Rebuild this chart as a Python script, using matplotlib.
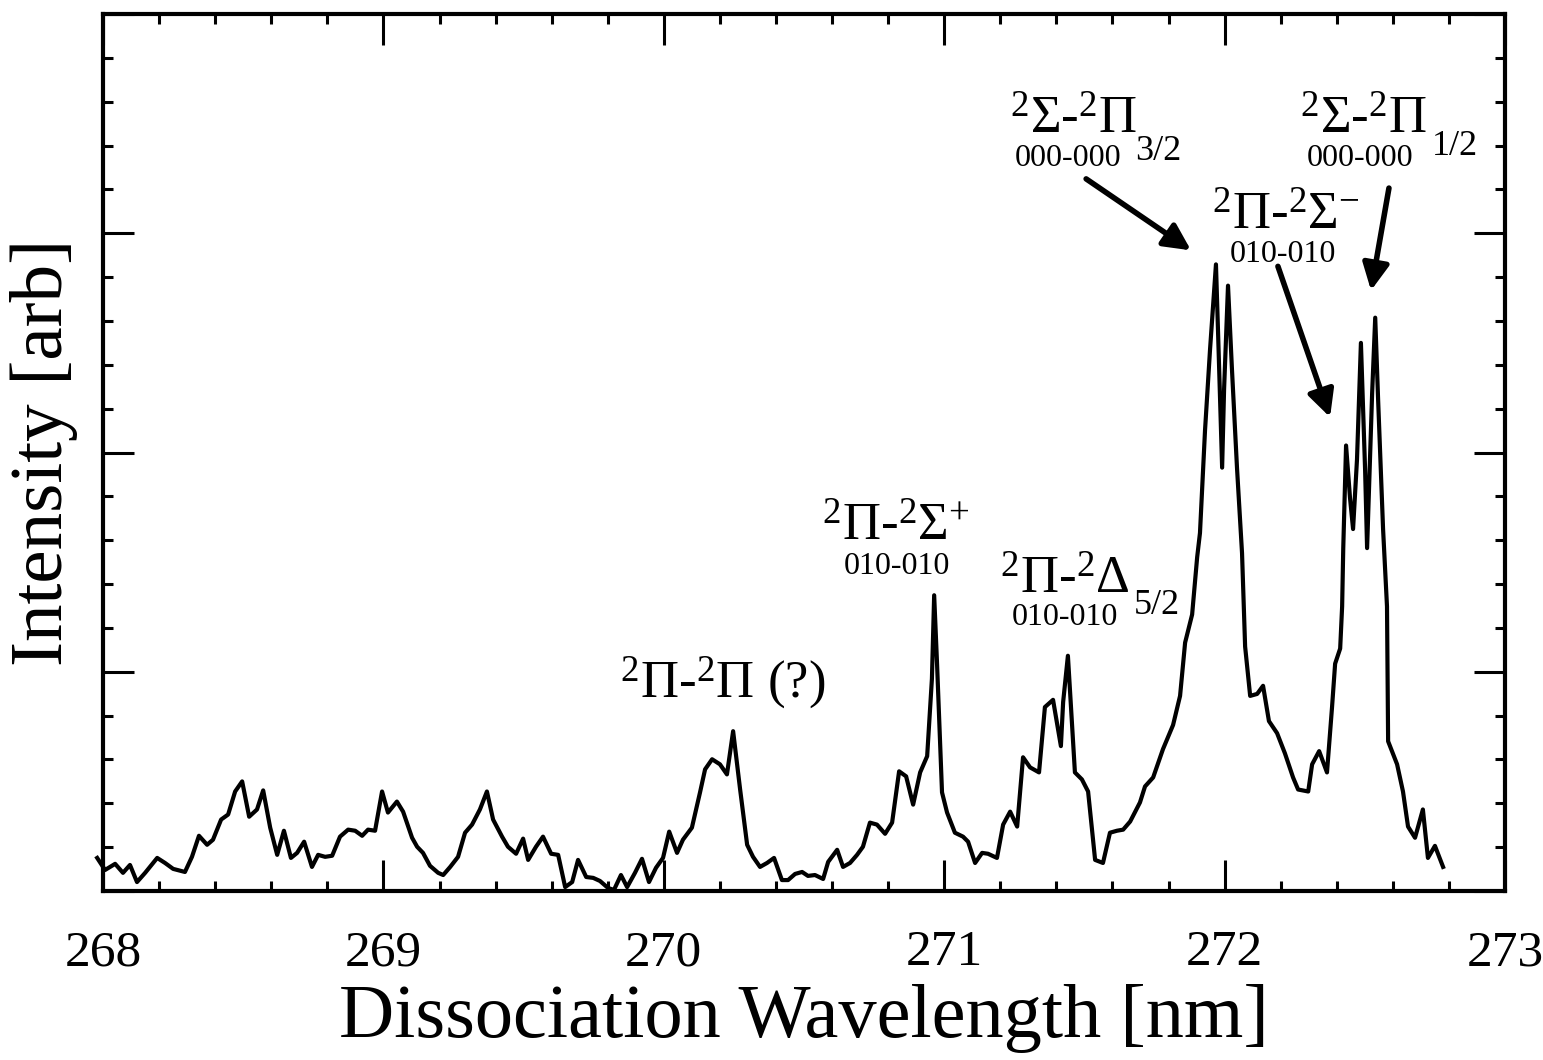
import matplotlib
matplotlib.use("Agg")
import matplotlib.pyplot as plt
from matplotlib.ticker import MultipleLocator, NullFormatter

plt.rcParams['font.family'] = ['Liberation Serif', 'DejaVu Serif']
plt.rcParams['mathtext.fontset'] = 'custom'
plt.rcParams['mathtext.rm'] = 'Liberation Serif'
plt.rcParams['mathtext.default'] = 'rm'

# spectrum (wavelength in nm, intensity in arb. units)
wavelength = [
    267.979, 268.007, 268.043, 268.071, 268.096, 268.121, 268.150, 268.193, 268.221, 268.250,
    268.292, 268.317, 268.342, 268.371, 268.392, 268.421, 268.446, 268.471, 268.496, 268.521,
    268.549, 268.571, 268.596, 268.621, 268.645, 268.670, 268.692, 268.717, 268.745, 268.767,
    268.792, 268.817, 268.845, 268.874, 268.899, 268.924, 268.945, 268.970, 268.995, 269.016,
    269.048, 269.070, 269.102, 269.120, 269.141, 269.166, 269.195, 269.213, 269.238, 269.266,
    269.291, 269.316, 269.344, 269.369, 269.391, 269.423, 269.444, 269.473, 269.498, 269.516,
    269.544, 269.569, 269.598, 269.623, 269.648, 269.673, 269.694, 269.723, 269.748, 269.772,
    269.801, 269.822, 269.847, 269.869, 269.897, 269.922, 269.947, 269.972, 269.997, 270.019,
    270.047, 270.068, 270.100, 270.129, 270.147, 270.172, 270.200, 270.225, 270.247, 270.272,
    270.297, 270.318, 270.343, 270.368, 270.393, 270.421, 270.443, 270.468, 270.493, 270.514,
    270.539, 270.568, 270.586, 270.618, 270.639, 270.664, 270.689, 270.710, 270.735, 270.760,
    270.789, 270.814, 270.839, 270.864, 270.889, 270.914, 270.939, 270.956, 270.964, 270.974,
    270.992, 271.010, 271.038, 271.067, 271.085, 271.110, 271.135, 271.156, 271.188, 271.210,
    271.235, 271.260, 271.281, 271.306, 271.338, 271.359, 271.388, 271.416, 271.424, 271.441,
    271.466, 271.491, 271.513, 271.538, 271.566, 271.591, 271.616, 271.638, 271.663, 271.698,
    271.716, 271.745, 271.780, 271.816, 271.841, 271.859, 271.884, 271.902, 271.912, 271.930,
    271.948, 271.969, 271.976, 271.991, 271.998, 272.012, 272.026, 272.044, 272.062, 272.073,
    272.091, 272.116, 272.137, 272.158, 272.187, 272.215, 272.244, 272.262, 272.298, 272.312,
    272.337, 272.365, 272.383, 272.394, 272.412, 272.419, 272.423, 272.433, 272.447, 272.458,
    272.472, 272.486, 272.501, 272.508, 272.526, 272.537, 272.547, 272.565, 272.579, 272.583,
    272.615, 272.636, 272.654, 272.679, 272.707, 272.725, 272.750, 272.779,
]
intensity = [
    0.151, 0.096, 0.124, 0.083, 0.119, 0.041, 0.083, 0.151, 0.128, 0.101,
    0.087, 0.156, 0.252, 0.211, 0.234, 0.326, 0.349, 0.454, 0.500, 0.339,
    0.372, 0.459, 0.289, 0.165, 0.275, 0.151, 0.174, 0.225, 0.110, 0.165,
    0.156, 0.161, 0.248, 0.280, 0.275, 0.252, 0.280, 0.275, 0.454, 0.358,
    0.408, 0.362, 0.243, 0.202, 0.174, 0.115, 0.083, 0.073, 0.110, 0.156,
    0.266, 0.303, 0.372, 0.454, 0.326, 0.248, 0.202, 0.170, 0.239, 0.142,
    0.202, 0.248, 0.170, 0.165, 0.018, 0.041, 0.142, 0.064, 0.060, 0.046,
    0.014, 0.005, 0.073, 0.018, 0.083, 0.147, 0.041, 0.106, 0.151, 0.271,
    0.174, 0.234, 0.289, 0.450, 0.555, 0.601, 0.578, 0.532, 0.729, 0.463,
    0.211, 0.156, 0.110, 0.128, 0.151, 0.050, 0.050, 0.078, 0.087, 0.069,
    0.073, 0.055, 0.133, 0.188, 0.110, 0.128, 0.165, 0.202, 0.312, 0.303,
    0.261, 0.312, 0.546, 0.523, 0.394, 0.541, 0.615, 0.968, 1.349, 1.046,
    0.450, 0.358, 0.266, 0.248, 0.225, 0.128, 0.174, 0.170, 0.151, 0.303,
    0.362, 0.294, 0.610, 0.564, 0.541, 0.839, 0.872, 0.661, 0.862, 1.073,
    0.541, 0.509, 0.454, 0.142, 0.128, 0.266, 0.275, 0.280, 0.317, 0.404,
    0.477, 0.518, 0.647, 0.757, 0.890, 1.133, 1.261, 1.523, 1.633, 2.101,
    2.472, 2.858, 2.569, 1.931, 2.289, 2.761, 2.381, 1.931, 1.541, 1.115,
    0.890, 0.899, 0.936, 0.775, 0.720, 0.628, 0.518, 0.463, 0.454, 0.578,
    0.638, 0.541, 0.839, 1.037, 1.106, 1.298, 1.564, 2.032, 1.794, 1.651,
    1.968, 2.500, 1.917, 1.564, 2.271, 2.615, 2.252, 1.651, 1.298, 0.683,
    0.578, 0.454, 0.294, 0.243, 0.372, 0.151, 0.206, 0.110,
]

fig = plt.figure(figsize=(15.43, 10.60), dpi=100)
ax = fig.add_axes([0.0668, 0.1594, 0.9086, 0.8274])

ax.plot(wavelength, intensity, color='black', lw=3.0, clip_on=False)

ax.set_xlim(268, 273)
ax.set_ylim(0, 4)
ax.xaxis.set_major_locator(MultipleLocator(1))
ax.xaxis.set_minor_locator(MultipleLocator(0.2))
ax.yaxis.set_major_locator(MultipleLocator(1))
ax.yaxis.set_minor_locator(MultipleLocator(0.2))
ax.yaxis.set_major_formatter(NullFormatter())
ax.tick_params(which='both', direction='in', top=True, right=True, width=2.2)
ax.tick_params(which='major', length=22, labelsize=37, pad=28)
ax.tick_params(which='minor', length=7)
for s in ax.spines.values():
    s.set_linewidth(3)

ax.set_xlabel('Dissociation Wavelength [nm]', fontsize=55)
ax.xaxis.set_label_coords(0.5, -0.106)
ax.set_ylabel('Intensity [arb]', fontsize=54)
ax.yaxis.set_label_coords(-0.018, 0.5)

big = 38
small = 23
mid = 26
# peak labels
ax.text(269.844, 0.885, r'$^{2}$Π-$^{2}$Π (?)', fontsize=big, va='baseline')
ax.text(270.564, 1.597, r'$^{2}$Π-$^{2}$Σ$^{+}$', fontsize=big, va='baseline')
ax.text(270.640, 1.445, '010-010', fontsize=small, va='baseline')
ax.text(271.199, 1.358, r'$^{2}$Π-$^{2}$Δ', fontsize=big, va='baseline')
ax.text(271.240, 1.215, '010-010', fontsize=small, va='baseline')
ax.text(271.675, 1.265, '5/2', fontsize=mid, va='baseline')
ax.text(271.235, 3.454, r'$^{2}$Σ-$^{2}$Π', fontsize=big, va='baseline')
ax.text(271.252, 3.305, '000-000', fontsize=small, va='baseline')
ax.text(271.680, 3.335, '3/2', fontsize=mid, va='baseline')
ax.text(272.269, 3.454, r'$^{2}$Σ-$^{2}$Π', fontsize=big, va='baseline')
ax.text(272.294, 3.305, '000-000', fontsize=small, va='baseline')
ax.text(272.740, 3.358, '1/2', fontsize=mid, va='baseline')
ax.text(271.955, 3.018, r'$^{2}$Π-$^{2}$Σ$^{-}$', fontsize=big, va='baseline')
ax.text(272.019, 2.870, '010-010', fontsize=small, va='baseline')

arrow = dict(arrowstyle='-|>', lw=4, color='black', mutation_scale=40,
             shrinkA=0, shrinkB=0)
ax.annotate('', xy=(271.880, 2.922), xytext=(271.506, 3.248), arrowprops=arrow)
ax.annotate('', xy=(272.522, 2.739), xytext=(272.586, 3.206), arrowprops=arrow)
ax.annotate('', xy=(272.376, 2.161), xytext=(272.190, 2.849), arrowprops=arrow)

fig.savefig('out.png', dpi=100)
